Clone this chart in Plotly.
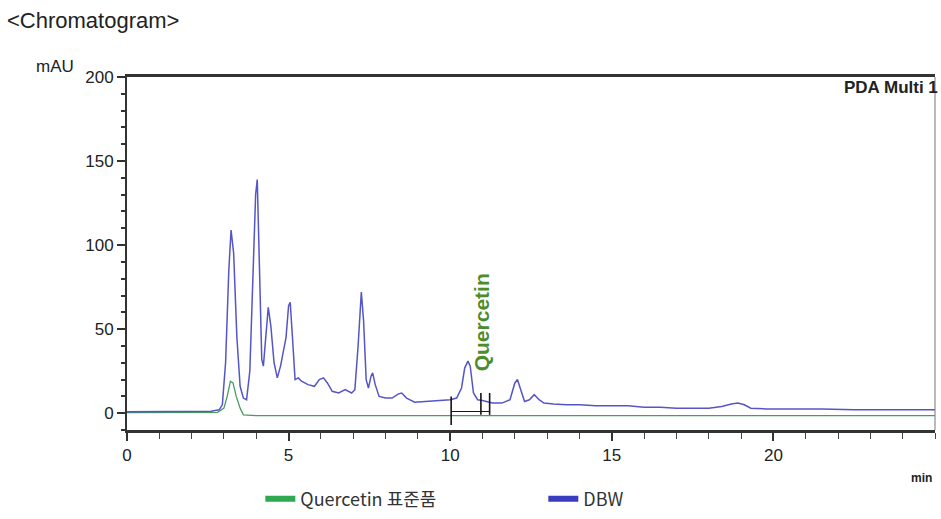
import plotly.graph_objects as go

# Retention time (min) and absorbance (mAU) for the DBW sample trace
dbw_time = [0.0, 2.0, 2.6, 2.85, 2.95, 3.05, 3.15, 3.22, 3.3, 3.4, 3.5, 3.6, 3.7,
            3.8, 3.9, 3.98, 4.03, 4.1, 4.17, 4.22, 4.3, 4.37, 4.45, 4.55, 4.65,
            4.75, 4.85, 4.92, 5.0, 5.05, 5.12, 5.2, 5.3, 5.4, 5.6, 5.8, 5.95,
            6.08, 6.2, 6.35, 6.55, 6.75, 6.95, 7.05, 7.15, 7.25, 7.32, 7.4, 7.47,
            7.55, 7.6, 7.68, 7.8, 8.0, 8.2, 8.4, 8.5, 8.65, 8.9, 9.2, 9.6, 10.0,
            10.2, 10.35, 10.45, 10.55, 10.62, 10.72, 10.85, 11.0, 11.3, 11.6,
            11.85, 12.0, 12.08, 12.18, 12.3, 12.45, 12.6, 12.75, 12.9, 13.2,
            13.6, 14.0, 14.5, 15.0, 15.5, 16.0, 16.5, 17.0, 17.5, 18.0, 18.4,
            18.7, 18.9, 19.1, 19.3, 19.8, 20.5, 21.5, 22.5, 23.5, 25.0]
dbw_mau = [0.8, 0.8, 1.2, 2, 5, 30, 85, 109, 95, 45, 16, 9, 8,
           25, 80, 130, 139, 90, 32, 28, 50, 63, 52, 30, 21,
           28, 38, 45, 64, 66, 45, 20, 21, 19, 17, 16, 20,
           21, 18, 13, 12, 14, 12, 14, 40, 72, 55, 20, 15,
           22, 24, 17, 10, 9, 9, 11.5, 12, 9, 6.5, 7, 7.5, 8,
           9, 15, 27, 31, 28, 12, 8, 7.5, 6, 6,
           8, 18, 20, 14, 7, 8, 11, 8, 6, 5.5,
           5, 5, 4.5, 4.5, 4.5, 3.5, 3.5, 3, 3, 3, 4,
           5.5, 6, 5, 3, 2.5, 2.5, 2.5, 2, 2, 2]

# Quercetin reference standard trace
std_time = [0.0, 2.8, 3.0, 3.1, 3.2, 3.28, 3.38, 3.5, 3.6, 4.0, 25.0]
std_mau = [0.3, 0.5, 3, 10, 19, 18, 10, 3, -1, -1.5, -1.5]

# Peak integration markers around the quercetin peak: (time, start mAU, end mAU)
marker_time = [10.03, 10.95, 11.22]
marker_low = [-7, -1, -1]
marker_high = [10, 12, 12]
baseline_time = [10.03, 11.22]
baseline_mau = [1, 1]

peak_label = "Quercetin"
peak_label_time = 10.98
peak_label_mau = 54

series_names = ["Quercetin 표준품", "DBW"]
legend_colors = ["#2fa84f", "#3a3cc0"]

x_major = [0, 5, 10, 15, 20]
x_minor = list(range(0, 26))
y_major = [0, 50, 100, 150, 200]

FONT = "Liberation Sans, Arial, sans-serif"

fig = go.Figure()

fig.add_trace(go.Scatter(x=std_time, y=std_mau, mode="lines",
                         line=dict(color="#4a9a62", width=1.3),
                         showlegend=False, hoverinfo="skip"))
fig.add_trace(go.Scatter(x=dbw_time, y=dbw_mau, mode="lines",
                         line=dict(color="#5555c8", width=1.5),
                         showlegend=False, hoverinfo="skip"))

# integration marks
for t, lo, hi in zip(marker_time, marker_low, marker_high):
    fig.add_trace(go.Scatter(x=[t, t], y=[lo, hi], mode="lines",
                             line=dict(color="#151515", width=1.6),
                             showlegend=False, hoverinfo="skip"))
fig.add_trace(go.Scatter(x=baseline_time, y=baseline_mau, mode="lines",
                         line=dict(color="#151515", width=1),
                         showlegend=False, hoverinfo="skip"))

# legend entries
for name, col in zip(series_names, legend_colors):
    fig.add_trace(go.Scatter(x=[None], y=[None], mode="lines", name=name,
                             line=dict(color=col, width=6)))

fig.add_annotation(x=peak_label_time, y=peak_label_mau, xref="x", yref="y",
                   text=f"<b>{peak_label}</b>", textangle=-90, showarrow=False,
                   font=dict(family=FONT, size=21, color="#4d8c2d"))

fig.add_annotation(x=-0.151, y=1.161, xref="paper", yref="paper",
                   text="&lt;Chromatogram&gt;", showarrow=False,
                   xanchor="left", yanchor="middle",
                   font=dict(family=FONT, size=22, color="#222"))
fig.add_annotation(x=-0.089, y=1.031, xref="paper", yref="paper",
                   text="mAU", showarrow=False, xanchor="center", yanchor="middle",
                   font=dict(family=FONT, size=17, color="#222"))
fig.add_annotation(x=1.006, y=0.969, xref="paper", yref="paper",
                   text="<b>PDA Multi 1</b>", showarrow=False,
                   xanchor="right", yanchor="middle",
                   font=dict(family=FONT, size=17, color="#222"))
fig.add_annotation(x=0.983, y=-0.136, xref="paper", yref="paper",
                   text="<b>min</b>", showarrow=False,
                   xanchor="center", yanchor="middle",
                   font=dict(family=FONT, size=12, color="#222"))

# thin right frame edge
fig.add_shape(type="line", xref="paper", yref="paper", x0=1, x1=1, y0=0, y1=1,
              line=dict(color="#777", width=1))

fig.update_layout(
    width=941, height=519,
    margin=dict(l=127, r=6, t=77, b=89, autoexpand=False),
    paper_bgcolor="white", plot_bgcolor="white",
    font=dict(family=FONT, color="#222"),
    legend=dict(orientation="h", x=0.165, xanchor="left", y=-0.143, yanchor="top",
                entrywidth=238, font=dict(family="Noto Sans CJK KR, Noto Sans, sans-serif",
                                          size=18, color="#333"),
                bgcolor="rgba(0,0,0,0)"),
    xaxis=dict(range=[0, 25], showgrid=False, zeroline=False,
               showline=True, linecolor="#333", linewidth=2.5, mirror=True,
               tickmode="array", tickvals=x_major, ticks="outside", ticklen=8,
               tickwidth=1.5, tickcolor="#333",
               minor=dict(tickmode="array", tickvals=x_minor, ticks="outside",
                          ticklen=6, tickwidth=1.2, tickcolor="#444"),
               tickfont=dict(family=FONT, size=17, color="#222")),
    yaxis=dict(range=[-10, 200], showgrid=False, zeroline=False,
               showline=True, linecolor="#333", linewidth=2,
               tickmode="array", tickvals=y_major, ticks="outside", ticklen=8,
               tickwidth=1.5, tickcolor="#333",
               minor=dict(dtick=10, ticks="outside", ticklen=4, tickwidth=1.5,
                          tickcolor="#333"),
               tickfont=dict(family=FONT, size=17, color="#222")),
)

fig.write_html("out.html")
